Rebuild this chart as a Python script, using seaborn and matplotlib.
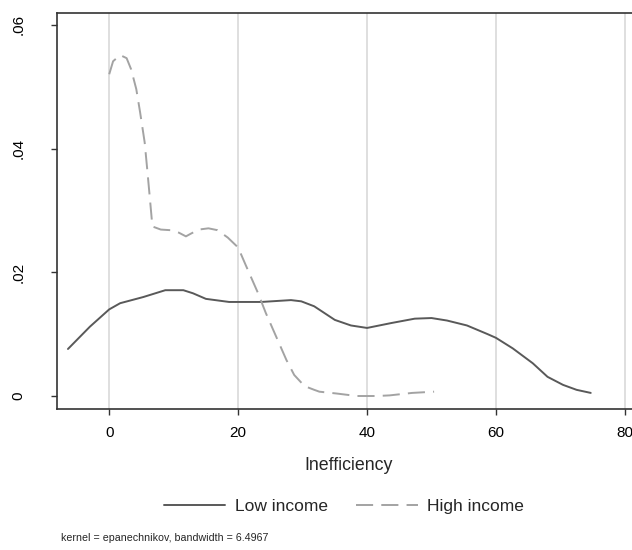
import pandas as pd
import matplotlib
matplotlib.use("Agg")
import matplotlib.pyplot as plt
import seaborn as sns
from matplotlib.lines import Line2D

# Kernel density estimates
low_x = [-6.4, -3.0, 0.0, 1.7, 5.3, 8.7, 11.5, 13.0, 15.0, 18.6, 23.6, 28.2, 29.8,
         31.8, 35.0, 37.5, 40.0, 43.8, 47.4, 50.0, 52.4, 55.5, 58.7, 60.0, 62.6,
         65.7, 68.0, 70.4, 72.5, 74.7]
low_y = [0.0076, 0.0112, 0.0140, 0.0150, 0.0160, 0.0171, 0.0171, 0.0166, 0.0157,
         0.0152, 0.0152, 0.0155, 0.0153, 0.0145, 0.0123, 0.0114, 0.0110, 0.0118,
         0.0125, 0.0126, 0.0122, 0.0114, 0.0100, 0.0094, 0.0077, 0.0053, 0.0031,
         0.0018, 0.0010, 0.0005]

high_x = [0.0, 0.6, 1.7, 2.7, 3.4, 4.2, 4.8, 5.5, 5.9, 6.4, 6.7, 8.0, 9.5, 10.8,
          11.9, 12.6, 13.9, 15.4, 16.8, 18.4, 20.0, 21.2, 23.1, 24.3, 25.9, 27.5,
          28.7, 30.3, 31.8, 32.6, 35.3, 38.4, 41.5, 43.5, 47.0, 50.4]
high_y = [0.0520, 0.0541, 0.0551, 0.0546, 0.0528, 0.0496, 0.0458, 0.0410, 0.0366,
          0.0309, 0.0274, 0.0269, 0.0268, 0.0264, 0.0258, 0.0262, 0.0269, 0.0271,
          0.0268, 0.0256, 0.0240, 0.0211, 0.0166, 0.0134, 0.0096, 0.0058, 0.0034,
          0.0016, 0.0010, 0.0007, 0.0004, 0.0000, 0.0000, 0.0001, 0.0005, 0.0007]

groups = ["Low income", "High income"]
x_ticks = [0, 20, 40, 60, 80]
y_ticks = [0, 0.02, 0.04, 0.06]
y_tick_labels = ["0", ".02", ".04", ".06"]

df = pd.concat([
    pd.DataFrame({"x": low_x, "y": low_y, "group": groups[0]}),
    pd.DataFrame({"x": high_x, "y": high_y, "group": groups[1]}),
])

sns.set_style("ticks")
plt.rcParams["font.family"] = ["Liberation Sans", "DejaVu Sans"]

colors = {"Low income": "#595959", "High income": "#a3a3a3"}
dash_pat = (8.8, 4.2)
dashes = {"Low income": "", "High income": dash_pat}

fig = plt.figure(figsize=(6.32, 5.5), dpi=100)
ax = fig.add_axes([57 / 632, 1 - 409 / 550, (641 - 57) / 632, (409 - 13) / 550])

for xv in x_ticks:
    ax.axvline(xv, color="#dcdcdc", lw=1.3, zorder=0)

sns.lineplot(data=df, x="x", y="y", hue="group", style="group",
             palette=colors, dashes=dashes, linewidth=1.4, legend=False,
             sort=False, ax=ax)

ax.set_xlim(-8.1, 82.5)
ax.set_ylim(-0.0021, 0.0619)
ax.set_xticks(x_ticks)
ax.set_yticks(y_ticks)
ax.set_yticklabels(y_tick_labels, rotation=90, va="center")
ax.tick_params(axis="both", direction="out", length=4.5, width=1, color="#333333",
               labelsize=11, labelcolor="black")
ax.tick_params(axis="y", pad=18)
ax.tick_params(axis="x", pad=8)
ax.set_xlabel("Inefficiency", fontsize=12.8, labelpad=12)
ax.set_ylabel("")
for s in ax.spines.values():
    s.set_visible(True)
    s.set_color("#333333")
    s.set_linewidth(1.2)

handles = [Line2D([], [], color=colors["Low income"], lw=1.4),
           Line2D([], [], color=colors["High income"], lw=1.4, dashes=dash_pat)]
fig.legend(handles, groups, loc="center", bbox_to_anchor=(344 / 632, 1 - 506 / 550),
           ncol=2, frameon=False, fontsize=12.5, handlelength=3.55,
           columnspacing=1.6, handletextpad=0.57)

fig.text(61 / 632, 1 - 538 / 550, "kernel = epanechnikov, bandwidth = 6.4967",
         fontsize=7.7, va="center", ha="left")

fig.savefig("out.png", dpi=100)
